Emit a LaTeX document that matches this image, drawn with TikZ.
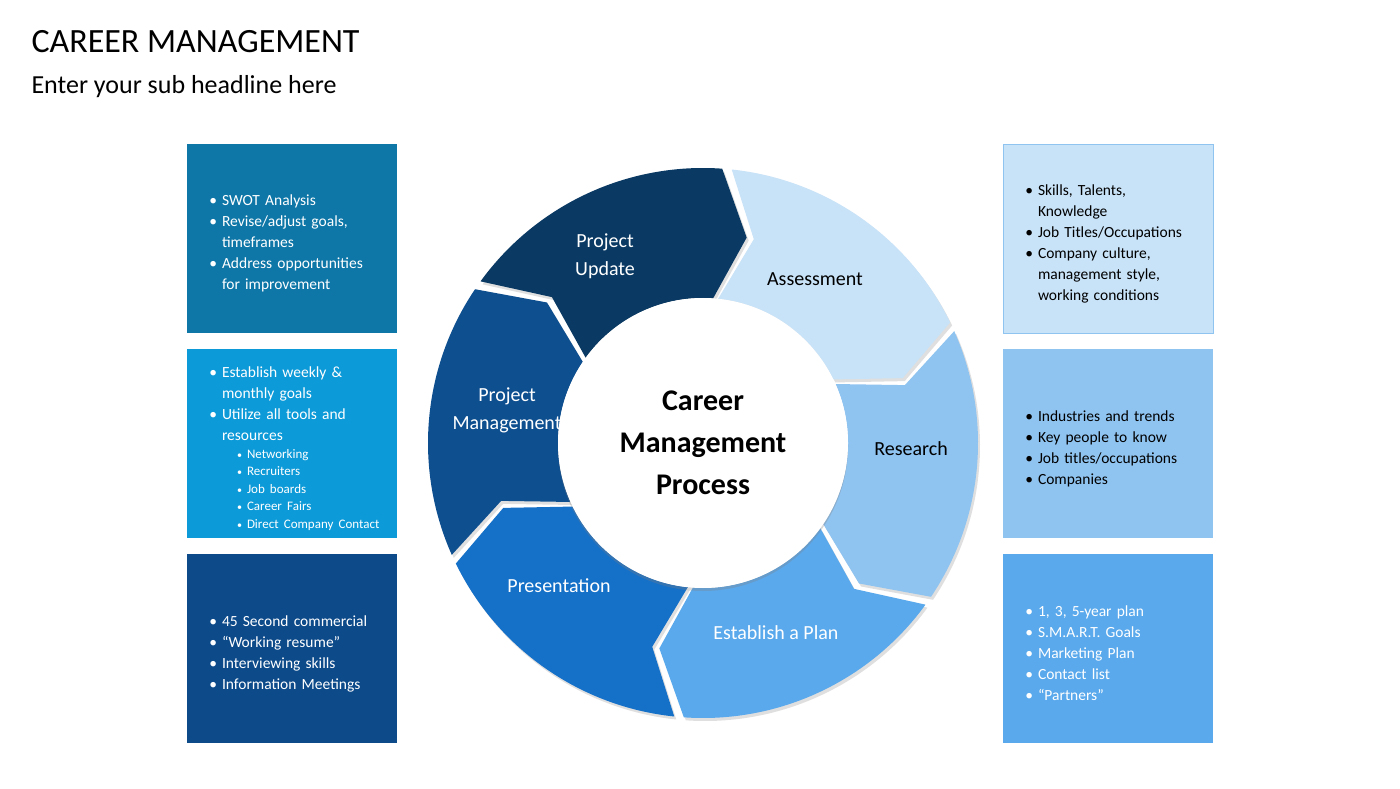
\documentclass[tikz,border=0pt]{standalone}
\usepackage{fontspec}
\setmainfont{Carlito}
\usepackage{enumitem}
\usetikzlibrary{shadows}
\definecolor{navy}{HTML}{0A3A63}
\definecolor{pale}{HTML}{C8E2F7}
\definecolor{sky}{HTML}{8FC3F0}
\definecolor{mid}{HTML}{5AA9EC}
\definecolor{royal}{HTML}{1570C8}
\definecolor{deep}{HTML}{0E4F90}
\definecolor{teal}{HTML}{0F77A8}
\definecolor{cyan}{HTML}{0D9AD8}
\definecolor{dark}{HTML}{0D4A8A}
\tikzset{
  infobox/.style={minimum width=210pt,minimum height=189pt,inner sep=0pt,
    text width=180pt,align=left,font=\fontsize{15.5}{21}\selectfont},
  seglabel/.style={font=\fontsize{20}{28}\selectfont,align=center},
}
\newcommand{\segment}[2]{% start angle, colour
  \fill[#2,drop shadow={opacity=0.25,shadow xshift=2pt,shadow yshift=-3pt}]
    ($(c)+(#1-1:275)$) arc[start angle=#1-1,end angle=#1-59,radius=275]
    -- ($(c)+(#1-67:210)$) -- ($(c)+(#1-59:145)$)
    arc[start angle=#1-59,end angle=#1-1,radius=145]
    -- ($(c)+(#1-9:210)$) -- cycle;}
\usetikzlibrary{calc}
\newcommand{\blist}[1]{\begin{itemize}[leftmargin=20pt,nosep,label=\textbullet]#1\end{itemize}}
\begin{document}
\begin{tikzpicture}[x=1pt,y=1pt]
\useasboundingbox (0,0) rectangle (1400,788);
\fill[white] (0,0) rectangle (1400,788);
\coordinate (c) at (703,345);
% title
\node[anchor=west,font=\fontsize{34}{40}\selectfont] (title) at (28,746) {CAREER MANAGEMENT};
\node[anchor=west,font=\fontsize{26}{30}\selectfont] (sub) at (28,701) {Enter your sub headline here};
% wheel
\segment{145}{navy}
\segment{85}{pale}
\segment{25}{sky}
\segment{-35}{mid}
\segment{-95}{royal}
\segment{-155}{deep}
\fill[white,drop shadow={opacity=0.3,shadow xshift=0pt,shadow yshift=-3pt}] (c) circle[radius=145];
\node[font=\bfseries\fontsize{30}{42}\selectfont,align=center] (centre) at (c) {Career\\Management\\Process};
\node[seglabel,white] (update) at (605,532) {Project\\Update};
\node[seglabel] (assess) at (815,509) {Assessment};
\node[seglabel] (research) at (911,339) {Research};
\node[seglabel,white] (plan) at (776,155) {Establish a Plan};
\node[seglabel,white] (present) at (559,202) {Presentation};
\node[seglabel,white] (manage) at (507,378) {Project\\Management};
% left boxes
\node[infobox,fill=teal,text=white] (left1) at (292,549.5) {\blist{\item SWOT Analysis
  \item Revise/adjust goals, timeframes \item Address opportunities for improvement}};
\node[infobox,fill=cyan,text=white] (left2) at (292,344.5) {\blist{\item Establish weekly \& monthly goals
  \item Utilize all tools and resources
  \begin{itemize}[leftmargin=25pt,nosep,label=\textbullet,font=\fontsize{10}{12}\selectfont]\fontsize{13}{17.5}\selectfont
  \item Networking \item Recruiters \item Job boards \item Career Fairs \item Direct Company Contact\end{itemize}}};
\node[infobox,fill=dark,text=white] (left3) at (292,139.5) {\blist{\item 45 Second commercial
  \item “Working resume” \item Interviewing skills \item Information Meetings}};
% right boxes
\node[infobox,fill=pale,draw=sky,text=black] (right1) at (1108,549.5) {\blist{\item Skills, Talents, Knowledge
  \item Job Titles/Occupations \item Company culture, management style, working conditions}};
\node[infobox,fill=sky,text=black] (right2) at (1108,344.5) {\blist{\item Industries and trends
  \item Key people to know \item Job titles/occupations \item Companies}};
\node[infobox,fill=mid,text=white] (right3) at (1108,139.5) {\blist{\item 1, 3, 5-year plan
  \item S.M.A.R.T. Goals \item Marketing Plan \item Contact list \item “Partners”}};
\end{tikzpicture}
\end{document}
